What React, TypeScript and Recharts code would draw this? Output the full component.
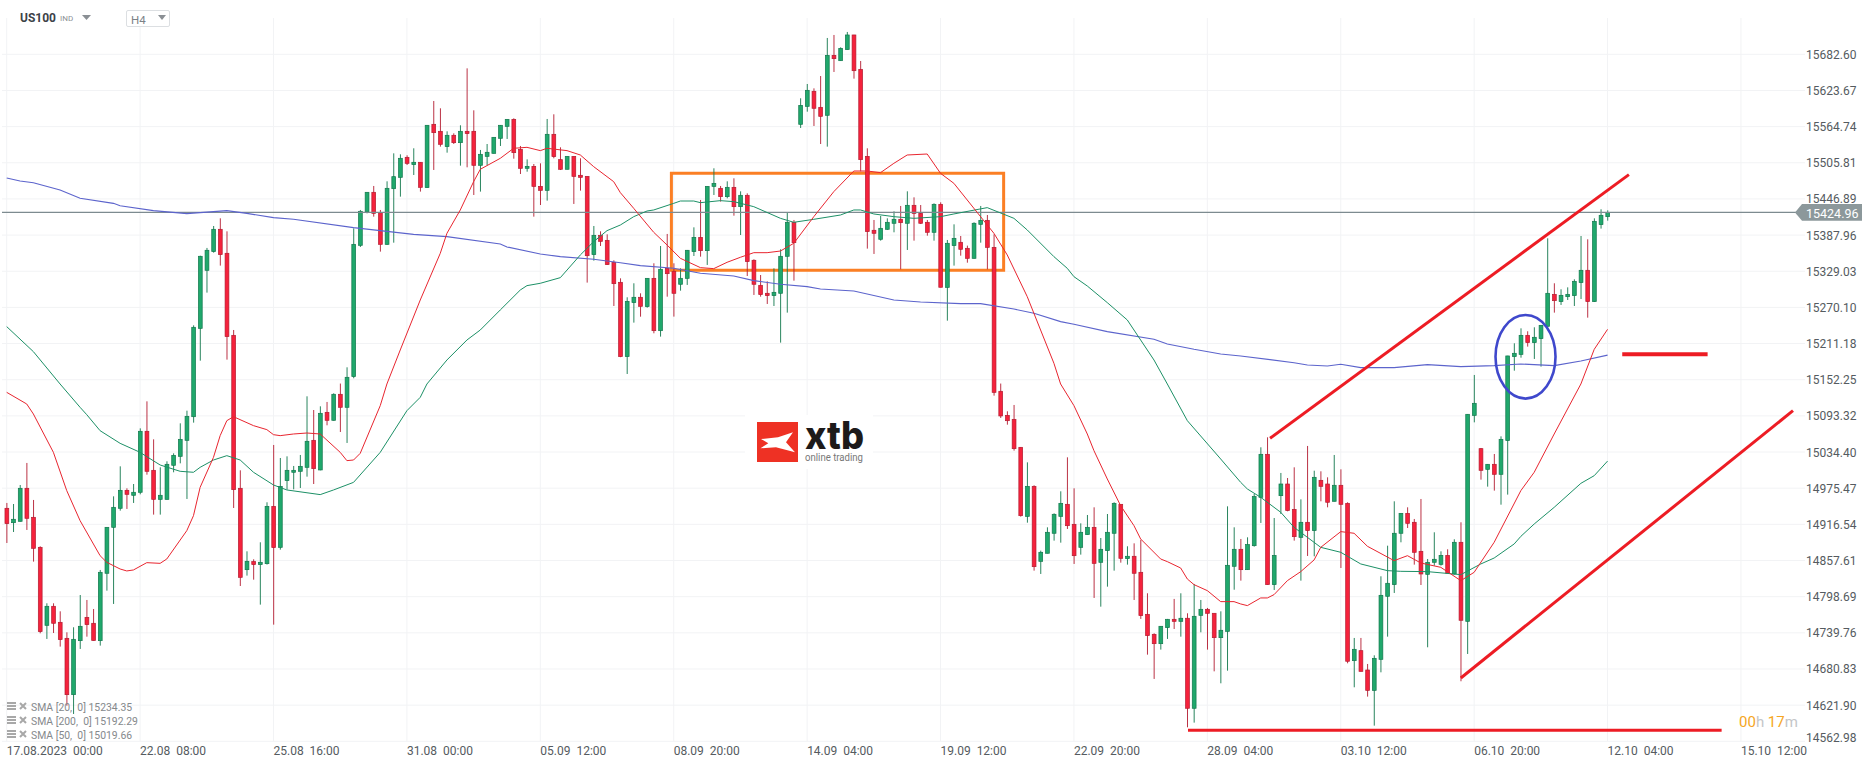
import React from 'react';
import { ComposedChart, Bar, Line, XAxis, YAxis, CartesianGrid, ReferenceLine, ReferenceArea, ReferenceDot } from 'recharts';

const FONT = 'Roboto, sans-serif';
const priceTicks = [15682.60,15623.67,15564.74,15505.81,15446.89,15387.96,15329.03,15270.10,15211.18,15152.25,15093.32,15034.40,14975.47,14916.54,14857.61,14798.69,14739.76,14680.83,14621.90,14562.98];
const CURRENT = 15424.96;
const timeTicks = [0,20,40,60,80,100,120,140,160,180,200,220,240,260];
const timeLabels = ['17.08.2023\u00a0\u00a000:00','22.08\u00a0\u00a008:00','25.08\u00a0\u00a016:00','31.08\u00a0\u00a000:00','05.09\u00a0\u00a012:00','08.09\u00a0\u00a020:00','14.09\u00a0\u00a004:00','19.09\u00a0\u00a012:00','22.09\u00a0\u00a020:00','28.09\u00a0\u00a004:00','03.10\u00a0\u00a012:00','06.10\u00a0\u00a020:00','12.10\u00a0\u00a004:00','15.10\u00a0\u00a012:00'];

// open, high, low, close for every H4 candle
const ohlc: number[][] = [
[14942.7,14951.4,14886.2,14917.7],[14919.3,14949.7,14904.1,14924.8],[14921.5,14980.7,14921,14975.3],[14975.3,15016.6,14907.4,14926.4],[14928,14956.3,14855.8,14877.5],
[14879.1,14880.8,14739,14741.7],[14752,14787.9,14729.8,14783],[14783,14787.9,14739.5,14755.3],[14756.9,14774.8,14717.3,14728.7],[14730.8,14740.6,14621.1,14639],
[14639,14748.8,14607.5,14729.2],[14727,14801.4,14713.5,14750.4],[14765,14793.3,14733.5,14753.1],[14755.3,14778.6,14727,14727.2],[14727,14842.2,14718.9,14838.4],
[14836.8,14911.9,14808.5,14911.7],[14911.7,14962.2,14786.8,14944.3],[14942.7,15011.1,14938.9,14972],[14972,14975.3,14941.6,14965.5],[14963.9,14982.3,14951.4,14968.8],
[14968.8,15073,14965.5,15068.2],[15068.2,15117,14997.5,15003],[15004.6,15055.1,14932.4,14957.3],[14957.3,15009.5,14932.4,14963.9],[14957.3,15019.3,14957,15014.4],
[15012.8,15032.3,15001.4,15029],[15027.4,15081.2,15016,15055.1],[15053.5,15101.8,14957.9,15092.6],[15092,15240.9,15082.3,15237.7],[15236,15354.4,15183.3,15353.4],
[15330.6,15367,15294.2,15363.2],[15361,15402.8,15359.3,15397.4],[15397.4,15415.3,15338.2,15356.1],[15358.3,15394.1,15185,15222.5],[15224.6,15233.3,14943.2,14973.1],
[14975.3,15004.6,14816.1,14830.2],[14842.7,14872.6,14833,14856.3],[14855.8,14859.6,14826.4,14850.9],[14850.9,14887.3,14785.7,14854.7],[14852.5,14952.5,14851,14945.9],
[14945.9,15045.9,14753.1,14878.6],[14879.1,15024.7,14875.3,14978.5],[14987.8,15027.4,14973.1,15004.6],[15001.4,15011.7,14973.6,15004.6],[15003,15029.6,14975.8,15011.1],
[15009.5,15125.2,14994.3,15051.9],[15053.5,15102.9,14982.3,15007.3],[15005.2,15108.9,15004.6,15097.5],[15099.1,15116,15078,15086.1],[15086.1,15130.1,15085.5,15128.5],
[15128.5,15146,15067.1,15107.3],[15107.3,15172.5,15049.2,15156.2],[15157.3,15399,15154.6,15372.9],[15371.3,15428.9,15368.6,15426.7],[15425.6,15457.9,15423.4,15457.7],
[15457.7,15468,15418,15423.4],[15424.5,15428.9,15361,15372.9],[15372.9,15475.6,15372,15464.2],[15463.6,15521.2,15375.6,15483.2],[15482.1,15519.6,15450.6,15513.1],
[15514.7,15518,15502.2,15504.9],[15502.8,15529.4,15485.9,15506.6],[15506.6,15506.8,15458.8,15465.8],[15465.3,15567.1,15465.1,15566.9],[15568.5,15606.5,15494.1,15554.9],
[15557.1,15594.6,15532.1,15535.9],[15532.1,15557.1,15522.3,15550.6],[15550.6,15553.8,15536.4,15538.6],[15538.6,15566.9,15501.1,15557.1],[15557.1,15659.7,15498.4,15553.3],
[15557.1,15591.3,15453.3,15501.7],[15501.7,15526.7,15458.8,15519.6],[15516.3,15536.4,15501.7,15522.9],[15521.2,15547.5,15521,15547.3],[15545.7,15567.1,15533.2,15566.9],
[15565.2,15576.8,15544.6,15576.6],[15576.6,15578.3,15512.5,15522.3],[15527.7,15533.2,15487.5,15496.8],[15496.8,15511.4,15491.3,15500],[15500,15503.8,15418,15467.4],
[15467.4,15504.9,15437,15460.9],[15460.9,15577.2,15444.1,15552.2],[15552.2,15584.8,15513.1,15515.8],[15510.9,15531,15494,15495.2],[15495.2,15516.5,15495,15516.3],
[15516.3,15516.5,15438.7,15483.7],[15485.4,15513.1,15460.4,15482.1],[15483.7,15483.9,15310.5,15354.4],[15356.1,15402.8,15346.3,15387.6],[15387.6,15394.1,15370.2,15377.8],
[15379.4,15389.2,15339.3,15339.8],[15343.6,15346.9,15272.4,15308.8],[15311,15317.5,15189,15189.9],[15189.9,15286.6,15161.6,15280],[15277.9,15309.4,15245.3,15286.6],
[15286.6,15293.1,15255,15271.9],[15271.4,15317.7,15269.7,15317.5],[15317.5,15342,15227.9,15232.2],[15232.2,15370.2,15222.5,15332.2],[15333.8,15389.8,15287.6,15325.1],
[15328.4,15342,15255.1,15293.1],[15307.8,15333.8,15297.4,15317.5],[15317.5,15363.7,15306.7,15363.2],[15361,15400.6,15353.9,15384.3],[15384.3,15445.2,15352.8,15362.6],
[15362.6,15467.6,15339.3,15467.4],[15467.4,15496.8,15453.3,15472.3],[15464.2,15468,15442.5,15450.6],[15450.6,15475.6,15447.9,15465.8],[15465.8,15480.5,15419.6,15434.3],
[15434.3,15459.3,15388.1,15452.8],[15452.8,15456,15321.3,15344.7],[15346.9,15348.5,15290.4,15307.8],[15306.1,15322.9,15287.6,15290.9],[15293.1,15312.6,15275.7,15289.3],
[15289.3,15333.8,15272.4,15294.7],[15293.1,15364.8,15212.7,15353.4],[15353.4,15424.5,15261.6,15408.8],[15408.8,15412.6,15313.7,15375.6],[15568.5,15610.9,15562.5,15599.4],
[15597.8,15634.2,15589.1,15623.9],[15622.3,15627.1,15565.8,15594.6],[15596.2,15647.2,15536.4,15581.5],[15583.2,15709.2,15532.1,15680.9],[15680.9,15714.1,15653.8,15675.5],
[15672.2,15694,15672,15692.3],[15690.2,15719,15690,15714.1],[15714.1,15714.3,15642.9,15655.9],[15658.1,15671.7,15491.9,15510.9],[15516.3,15529.4,15365.9,15393.6],
[15395.8,15412.6,15357.2,15390.9],[15381.1,15419.1,15378.9,15399],[15397.4,15415.3,15396.3,15408.8],[15407.2,15426.7,15392.5,15413.7],[15413.7,15435.4,15332.2,15408.2],
[15407.2,15459.3,15363.7,15436.5],[15436.5,15449.5,15378.9,15423.4],[15423.4,15437,15406,15407.2],[15408.8,15412.6,15387,15392.5],[15392.5,15439.7,15378.9,15438.1],
[15438.1,15441.4,15302.8,15302.9],[15302.8,15380,15248.5,15374.6],[15370.8,15405.5,15338.2,15382.7],[15376.2,15386.5,15354.4,15364.8],[15366.4,15370.8,15343,15350.1],
[15350.1,15408.8,15349.6,15407.2],[15405.5,15435.4,15375.6,15412],[15412,15420.7,15332.2,15368],[15368,15389.2,15126.3,15131.7],[15133.4,15146,15089.9,15093.2],
[15094.2,15100.8,15079,15085.5],[15087.7,15111.1,15036.7,15039.9],[15042.1,15042.3,14929.1,14930.7],[14929.6,15017.6,14919.3,14978.5],[14978.5,14980.2,14841.1,14847.6],
[14856.3,14873.7,14835.7,14871],[14869.4,14911.7,14869.2,14903.6],[14902,14934.5,14890,14932.9],[14929.6,14970.4,14886.7,14950.8],[14949.2,15025.8,14909,14914.4],
[14916.6,14975.3,14852,14865.5],[14879.1,14918.2,14867.2,14903.6],[14899.8,14931.8,14899.6,14911.7],[14911.7,14944.3,14796.6,14853],[14854.7,14894.3,14782.4,14875.9],
[14873.7,14933.4,14815,14903.6],[14902,14952.5,14841.1,14950.8],[14949.2,14949.7,14854.1,14861.2],[14860.7,14880.8,14850.9,14864.5],[14864.5,14885.6,14793.3,14836.8],
[14838.4,14891.1,14762.4,14767.8],[14769.9,14804.2,14704.2,14735.2],[14737.3,14739,14664.6,14722.1],[14722.1,14750.6,14712.4,14750.4],[14748.2,14762.4,14729.8,14761.8],
[14761.8,14795,14746,14758.5],[14758.5,14804.2,14733.5,14763.5],[14763.5,14771.6,14585.8,14616.8],[14616.8,14819.4,14593.4,14766.7],[14768.3,14793.3,14740.6,14778.1],
[14778.1,14780.3,14712.4,14771.6],[14771.6,14771.8,14677,14731.9],[14731.9,14774.8,14657.5,14743.9],[14742.2,14945.9,14678.1,14849.8],[14848.2,14911.7,14810,14875.9],
[14875.9,14892.7,14824.8,14842.7],[14842.7,14895.4,14842.5,14883.5],[14881.8,14966,14880.2,14961.7],[14960.6,15042.1,14918.8,15030.7],[15030.7,15058.4,14818.1,14818.3],
[14818.3,14926.9,14809.6,14866],[14963.3,15000.3,14933.4,14982.3],[14982.3,14992.1,14937.8,14938.9],[14941,15009.5,14890,14896.5],[14895.4,14957.3,14824.8,14919.9],
[14919.9,15044.3,14865,14906.3],[14906.3,15004,14864.5,14993.2],[14988.3,15003,14954.1,14978.5],[14982.3,14993.2,14944.3,14952.5],[14954.1,15029.6,14953.9,14980.2],
[14980.2,15006.2,14845.4,14949.2],[14950.8,14952.5,14690.1,14693.4],[14694.4,14731.4,14651,14712.9],[14710.7,14731.4,14676.8,14677],[14679.2,14689,14635.8,14646],
[14646,14703.1,14588.5,14698.2],[14696.6,14831.9,14675.4,14800.9],[14799.3,14881.8,14733.5,14820.5],[14818.3,14954.1,14804.7,14902],[14902,14934.7,14887.3,14934.5],
[14934.5,14944.3,14910.6,14918.2],[14919.9,14925.3,14850.9,14871],[14872.6,14957.9,14817.7,14835.7],[14835.1,14860.1,14716.2,14854.7],[14854.7,14903.6,14849.3,14859.6],
[14851.4,14872.6,14849.3,14866],[14866,14875.9,14836.6,14836.8],[14835.7,14892.2,14834.6,14887.3],[14887.3,14919.9,14660.8,14760.2],[14758.5,15096.1,14705.3,15095.9],
[15094.2,15160,15082.8,15113.8],[15039.9,15041,14989.4,15004.6],[15006.2,15014.6,14978,15014.4],[15014.4,15031.2,14971.5,14998.1],[14998.1,15060,14948.6,15055.1],
[15053,15191.2,14965,15191],[15189.9,15211.6,15167,15195.3],[15193.6,15236,15188.2,15224.6],[15224.6,15231.2,15206.2,15212.7],[15212.7,15237.7,15186.1,15221.4],
[15219.2,15241.1,15173.6,15240.9],[15239.3,15382.7,15239,15293.1],[15291.4,15309.4,15261.6,15281.1],[15279.5,15299.6,15274.1,15289.8],[15287.6,15302.8,15282.2,15291.4],
[15289.3,15315.9,15272.4,15312.6],[15310.5,15386.5,15283.8,15330.6],[15330.6,15381.1,15253.4,15279.5],[15279.5,15415.3,15279,15410.4],[15405,15430,15398.5,15420.2],
[15418,15428.3,15411.5,15424.96],
];

// moving averages, as [candle number, value]
const sma20: number[][] = [[0,15131.7],[3,15112.7],[4,15096.4],[7,15033.9],[9,14971.5],[11,14922.6],[14,14865.5],[15,14854.7],[17,14843.8],[18,14840.6],[19,14842.2],[21,14854.1],[23,14853],[24,14860.1],[27,14906.3],[28,14930.7],[29,14976.9],[31,15025.8],[32,15061.1],[33,15085.5],[34,15092],[37,15077.4],[39,15070.9],[40,15062.7],[41,15061.1],[43,15063.8],[45,15065.4],[47,15063.8],[50,15033.9],[51,15020.4],[52,15021.4],[53,15032.3],[56,15110],[57,15145.3],[59,15200.7],[62,15282.2],[65,15358.3],[66,15390.9],[68,15428.9],[70,15475],[71,15495.2],[74,15513.1],[76,15529.4],[78,15531],[80,15525.6],[81,15529.4],[84,15525.6],[86,15518.5],[88,15499.5],[91,15475],[92,15457.1],[94,15431.6],[97,15392.5],[99,15371.8],[101,15350.1],[104,15334.9],[106,15333.3],[108,15343.6],[110,15351.8],[112,15359.3],[114,15359.3],[116,15362],[118,15374.6],[121,15418],[123,15445.2],[124,15458.8],[127,15492.4],[129,15492.4],[131,15489.7],[133,15504.9],[135,15518.5],[138,15520.1],[140,15488.6],[142,15472.3],[144,15445.2],[148,15390.9],[150,15355.6],[153,15287.6],[155,15233.3],[157,15179],[158,15145.3],[160,15110],[162,15063.8],[163,15036.7],[165,14990.5],[167,14947],[169,14914.4],[170,14892.7],[173,14860.1],[174,14855.8],[176,14845.4],[177,14827.5],[178,14818.3],[180,14808.5],[182,14790.6],[184,14790.6],[185,14786.8],[186,14784.1],[188,14796.6],[189,14796.6],[190,14802],[192,14824.8],[194,14839.5],[196,14858.5],[197,14879.1],[200,14904.7],[202,14902],[204,14880.8],[208,14857.4],[210,14865.5],[212,14853.6],[215,14846.5],[218,14824.8],[220,14838.4],[223,14887.3],[227,14971.5],[229,15001.4],[232,15063.8],[236,15145.3],[238,15201.8],[240,15234.35]];
const sma50: number[][] = [[0,15238.8],[4,15198],[8,15145.3],[11,15107.3],[12,15095.3],[14,15069.2],[17,15048.6],[20,15033.9],[21,15026.9],[23,15013.3],[26,15003],[28,15001.4],[29,15009.5],[31,15021.4],[33,15028.5],[35,15021.4],[37,15001.4],[40,14980.7],[42,14972.6],[47,14965],[49,14972.6],[52,14985],[56,15033.9],[60,15101.8],[62,15123.6],[63,15145.3],[66,15184.4],[69,15217],[71,15233.3],[74,15266],[77,15298.5],[78,15305.6],[80,15309.4],[83,15318.6],[86,15355.6],[88,15377.3],[90,15395.2],[92,15404.4],[94,15418],[96,15427.2],[97,15428.9],[100,15439.7],[101,15443.5],[103,15443.5],[104,15440.8],[107,15444.1],[109,15442.5],[112,15434.3],[116,15415.3],[118,15408.8],[121,15413.7],[125,15420.7],[127,15428.9],[128,15428.9],[130,15422.4],[133,15418],[136,15415.3],[140,15418],[142,15422.4],[147,15432.7],[151,15415.3],[153,15396.3],[157,15352.8],[159,15333.8],[160,15320.2],[162,15305],[165,15277.9],[168,15249.6],[172,15184.4],[174,15145.3],[177,15085.5],[182,15023.1],[185,14985],[186,14974.2],[188,14960.6],[191,14936.2],[193,14911.7],[197,14879.1],[200,14871],[203,14852],[207,14841.1],[209,14840],[213,14839.5],[218,14834.6],[221,14852],[223,14861.7],[226,14884.6],[227,14897],[229,14917.1],[232,14944.3],[236,14983.4],[238,14995.9],[240,15019.66]];
const sma200: number[][] = [[0,15481],[2,15476.1],[4,15473.4],[8,15461.5],[11,15447.9],[16,15439.7],[17,15435.9],[22,15427.8],[27,15422.9],[31,15426.2],[33,15427.8],[36,15423.4],[40,15416.4],[43,15413.7],[52,15400.1],[61,15389.2],[66,15385.4],[74,15373.5],[75,15368.6],[80,15357.2],[83,15352.8],[88,15348.5],[92,15343],[95,15338.2],[100,15333.8],[104,15325.7],[109,15321.3],[112,15313.7],[116,15307.8],[120,15304],[122,15300.1],[127,15296.9],[133,15282.2],[137,15278.9],[143,15276.2],[146,15276.2],[151,15267.5],[154,15260.5],[158,15246.9],[160,15242.6],[165,15230.6],[172,15218.1],[174,15210.5],[178,15201.8],[182,15194.2],[185,15191],[193,15180],[195,15176.3],[198,15174.7],[200,15177.4],[203,15172],[208,15172],[213,15176.8],[218,15173.6],[223,15175.2],[227,15177.9],[232,15175.2],[236,15182.8],[240,15192.29]];

const smaLegend = ['SMA [20,\u00a0\u00a00] 15234.35','SMA [200,\u00a0\u00a00] 15192.29','SMA [50,\u00a0\u00a00] 15019.66'];

const lookup = (pairs: number[][]) => new Map(pairs.map(([i, v]) => [i, v]));
const m20 = lookup(sma20), m50 = lookup(sma50), m200 = lookup(sma200);
const rows = ohlc.map(([o, h, l, c], i) => ({
  idx: i, o, h, l, c, range: [l, h],
  sma20: m20.get(i) ?? null, sma50: m50.get(i) ?? null, sma200: m200.get(i) ?? null,
}));

const Candle = (p: any) => {
  const { x, y, width, height, payload } = p;
  const { o, h, l, c } = payload;
  const up = c >= o;
  const cx = x + width / 2;
  const k = height / (h - l);
  const top = y + (h - Math.max(o, c)) * k;
  const bh = Math.max(1, Math.abs(o - c) * k);
  const fill = up ? '#20a86c' : '#f5223c';
  const edge = up ? '#11774c' : '#b31b30';
  return (
    <g>
      <line x1={cx} x2={cx} y1={y} y2={y + height} stroke={edge} strokeWidth={0.9} />
      <rect x={cx - 1.9} y={top} width={3.8} height={bh} fill={fill} stroke={edge} strokeWidth={0.7} />
    </g>
  );
};

const PriceTick = (p: any) => {
  const v = p.payload.value;
  if (v === CURRENT) {
    return (
      <g>
        <polygon points="1795,212.5 1802,204 1862,204 1862,220.7 1802,220.7" fill="#8c989b" />
        <text x={1806} y={217.5} fill="#ffffff" fontSize={12.5} fontFamily={FONT}>{v.toFixed(2)}</text>
      </g>
    );
  }
  const shift = v === 14562.98 ? -4 : 0;
  return <text x={1806} y={p.y + 4.5 + shift} fill="#555b60" fontSize={12} fontFamily={FONT}>{v.toFixed(2)}</text>;
};

const TimeTick = (p: any) => {
  const i = timeTicks.indexOf(p.payload.value);
  return <text x={p.x} y={755} fill="#555b60" fontSize={12} fontFamily={FONT}>{timeLabels[i]}</text>;
};

const BlueEllipse = (p: any) => (
  <ellipse cx={p.cx} cy={p.cy} rx={30} ry={41.8} fill="none" stroke="#3f48cc" strokeWidth={2.6} />
);

const abs = (s: React.CSSProperties): React.CSSProperties => ({ position: 'absolute', whiteSpace: 'nowrap', fontFamily: FONT, ...s });
const LINE_RED = '#ed1c24';

export default function App() {
  return (
    <div style={{ position: 'absolute', left: 0, top: 0, width: 1866, height: 767, background: '#fff', overflow: 'hidden' }}>
      <ComposedChart width={1866} height={767} data={rows} margin={{ top: 18, right: 0, bottom: 0, left: 2 }}>
        <CartesianGrid stroke="#f2f3f5" horizontalValues={priceTicks} verticalValues={timeTicks} />
        <XAxis dataKey="idx" type="number" domain={[-0.705, 269.6]} ticks={timeTicks} interval={0} allowDataOverflow axisLine={false} tickLine={false} height={25.7} tick={<TimeTick />} />
        <YAxis orientation="right" type="number" domain={[14562.98, 15741.76]} ticks={[...priceTicks, CURRENT]} interval={0} allowDataOverflow axisLine={false} tickLine={false} width={61} tick={<PriceTick />} />
        <ReferenceLine y={CURRENT} stroke="#7d8b90" strokeWidth={1.2} />
        <Bar dataKey="range" barSize={5} shape={<Candle />} isAnimationActive={false} />
        <Line dataKey="sma200" stroke="#5c64cc" strokeWidth={1.1} dot={false} connectNulls isAnimationActive={false} />
        <Line dataKey="sma50" stroke="#1c9066" strokeWidth={1} dot={false} connectNulls isAnimationActive={false} />
        <Line dataKey="sma20" stroke="#e8252f" strokeWidth={1} dot={false} connectNulls isAnimationActive={false} />
        <ReferenceArea x1={99.65} x2={149.46} y1={15330.6} y2={15488.6} fill="none" fillOpacity={0} stroke="#fb7f24" strokeWidth={3} />
        <ReferenceLine segment={[{ x: 189.4, y: 15056.8 }, { x: 243.2, y: 15486.5 }]} stroke={LINE_RED} strokeWidth={3} />
        <ReferenceLine segment={[{ x: 218, y: 14666.2 }, { x: 267.8, y: 15101.8 }]} stroke={LINE_RED} strokeWidth={3} />
        <ReferenceLine segment={[{ x: 177.1, y: 14580.9 }, { x: 257.1, y: 14580.9 }]} stroke={LINE_RED} strokeWidth={3} />
        <ReferenceLine segment={[{ x: 242.2, y: 15193.6 }, { x: 255, y: 15193.6 }]} stroke={LINE_RED} strokeWidth={4} />
        <ReferenceDot x={227.7} y={15189.6} r={30} shape={<BlueEllipse />} />
      </ComposedChart>

      {/* instrument header */}
      <div style={abs({ left: 0, top: 0, width: 175, height: 18, background: '#fff' })} />
      <span style={abs({ left: 20, top: 11, fontSize: 12, fontWeight: 700, color: '#3c4248' })}>US100</span>
      <span style={abs({ left: 60, top: 14, fontSize: 8, color: '#8a8f94' })}>IND</span>
      <svg style={{ position: 'absolute', left: 82, top: 15 }} width={9} height={5}><polygon points="0,0 9,0 4.5,5" fill="#8a8f94" /></svg>
      <div style={{ position: 'absolute', left: 126, top: 10, width: 42, height: 15, border: '1px solid #dcdfe2', borderRadius: 2, background: '#fff' }} />
      <span style={abs({ left: 131, top: 13, fontSize: 11.5, color: '#7c8287' })}>H4</span>
      <svg style={{ position: 'absolute', left: 158, top: 15 }} width={8} height={5}><polygon points="0,0 8,0 4,5" fill="#8a8f94" /></svg>

      {/* indicator legend */}
      {smaLegend.map((t, k) => (
        <React.Fragment key={t}>
          <svg style={{ position: 'absolute', left: 6, top: 701 + k * 14 }} width={22} height={11}>
            <rect x={1} y={1} width={9} height={2} fill="#a8a8a8" /><rect x={1} y={4} width={9} height={2} fill="#a8a8a8" /><rect x={1} y={7} width={9} height={2} fill="#a8a8a8" />
            <path d="M14,2 L20,8 M20,2 L14,8" stroke="#a8a8a8" strokeWidth={2} />
          </svg>
          <span style={abs({ left: 31, top: 701 + k * 14, fontSize: 10.4, lineHeight: '14px', color: '#85898c' })}>{t}</span>
        </React.Fragment>
      ))}

      {/* countdown */}
      <span style={abs({ left: 1739, top: 714, fontSize: 15, lineHeight: '17px', color: '#c4c6c8' })}>
        <span style={{ color: '#f5a623' }}>00</span>h <span style={{ color: '#f5a623' }}>17</span>m
      </span>

      {/* logo */}
      <svg style={{ position: 'absolute', left: 0, top: 0 }} width={1866} height={767}>
        <rect x={745} y={415} width={128} height={54} fill="#fff" />
        <rect x={757} y={422} width={41} height={40} fill="#ee3124" />
        <polygon points="761,439 778,437.3 793,432.3 786,442.3 795,452.3 776,447.3 760.5,448.3 768.3,443.3" fill="#fff" />
        <text x={805} y={449} fontFamily="Inter, sans-serif" fontWeight={800} fontSize={38} fill="#1d1a1a" textLength={59} lengthAdjust="spacingAndGlyphs">xtb</text>
        <text x={805} y={461} fontFamily={FONT} fontSize={10} fill="#777" textLength={58} lengthAdjust="spacingAndGlyphs">online trading</text>
      </svg>
    </div>
  );
}
